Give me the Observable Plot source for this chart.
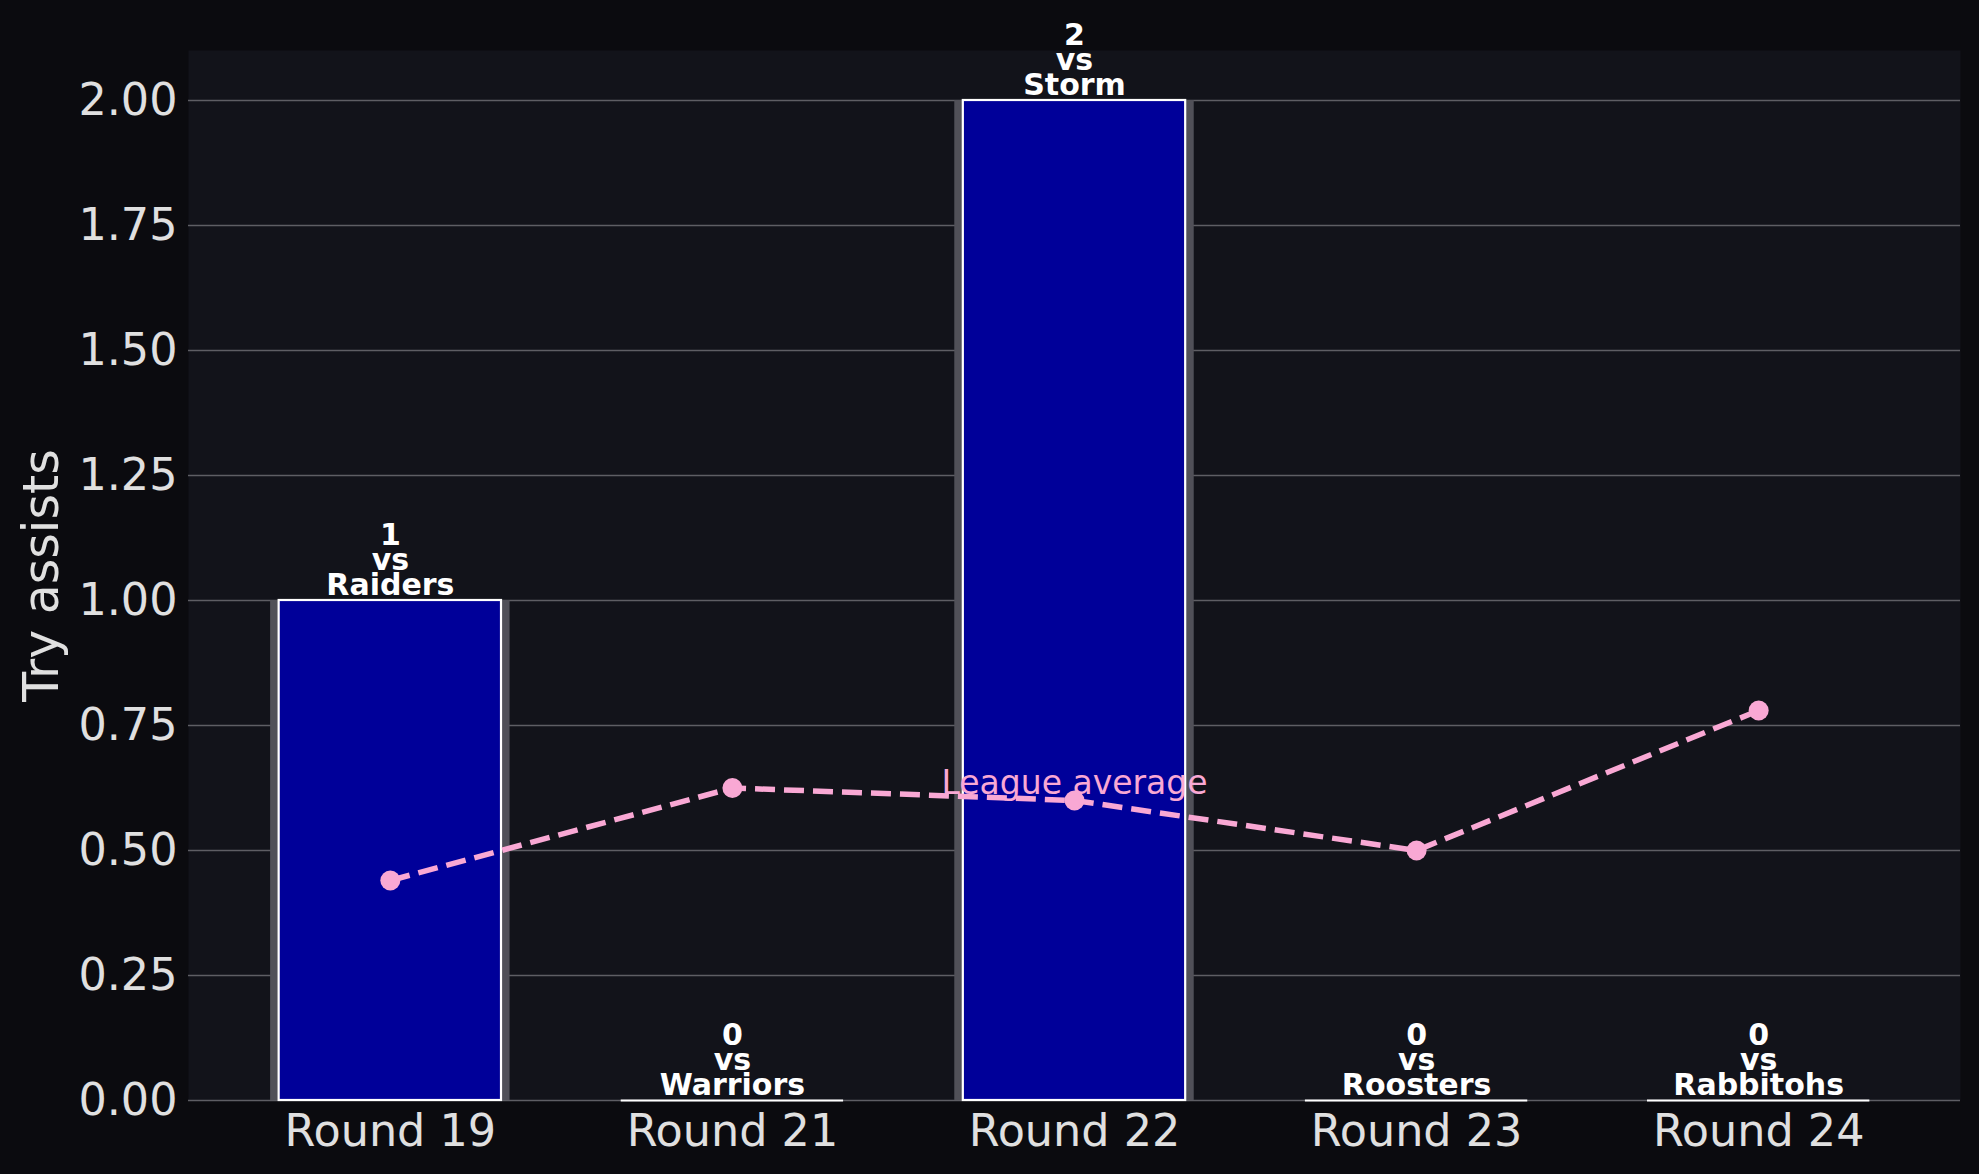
<!DOCTYPE html>
<html><head><meta charset="utf-8">
<script src="https://cdn.jsdelivr.net/npm/d3@7"></script>
<script src="https://cdn.jsdelivr.net/npm/@observablehq/plot@0.6"></script>
<style>
html,body{margin:0;padding:0;background:#0b0b0f;overflow:hidden;}
svg{display:block;overflow:visible;}
</style></head><body><div id="chart"></div>
<script>
const rounds = ["Round 19", "Round 21", "Round 22", "Round 23", "Round 24"];
const opponents = ["Raiders", "Warriors", "Storm", "Roosters", "Rabbitohs"];
const tryAssists = [1, 0, 2, 0, 0];
const leagueAverage = [0.44, 0.625, 0.60, 0.50, 0.78];
const yTicks = [0, 0.25, 0.5, 0.75, 1, 1.25, 1.5, 1.75, 2];
const yLabel = "Try assists";
const avgLabel = "League average";

const data = rounds.map((r, i) => ({i, round: r, opp: opponents[i], value: tryAssists[i], avg: leagueAverage[i]}));

const plot = Plot.plot({
  width: 1979, height: 1174,
  marginLeft: 188, marginRight: 19, marginTop: 50, marginBottom: 74,
  style: {background: "#0b0b0f", color: "#e0e0e0", fontFamily: "DejaVu Sans"},
  x: {domain: [-0.59, 4.59]},
  y: {domain: [0, 2.1]},
  marks: [
    Plot.frame({fill: "#12131a", stroke: null}),
    Plot.gridY(yTicks, {stroke: "#5e5e64", strokeOpacity: 1, strokeWidth: 1.6}),
    Plot.axisY({ticks: yTicks, tickFormat: d3.format(".2f"), tickSize: 0, tickPadding: 11, fontSize: 44.5, fill: "#e0e0e0", label: null}),
    Plot.axisX({ticks: [0, 1, 2, 3, 4], tickFormat: i => rounds[i], tickSize: 0, tickPadding: 14, fontSize: 44.5, fill: "#e0e0e0", label: null}),
    Plot.text([yLabel], {frameAnchor: "left", textAnchor: "middle", rotate: -90, dx: -146, fontSize: 49, fill: "#e0e0e0", text: d => d}),
    Plot.rectY(data, {filter: d => d.value > 0, x1: d => d.i - 0.35, x2: d => d.i + 0.35, y1: 0, y2: "value", fill: "#505058"}),
    Plot.rectY(data, {filter: d => d.value > 0, x1: d => d.i - 0.325, x2: d => d.i + 0.325, y1: 0, y2: "value", fill: "#000099", stroke: "white", strokeWidth: 2.2}),
    Plot.ruleY(data, {filter: d => d.value === 0, x1: d => d.i - 0.325, x2: d => d.i + 0.325, y: "value", stroke: "white", strokeWidth: 2.2}),
    Plot.line(data, {x: "i", y: "avg", stroke: "#f9a8d4", strokeWidth: 5.5, strokeDasharray: "20,9", strokeLinecap: "butt"}),
    Plot.dot(data, {x: "i", y: "avg", r: 10, fill: "#f9a8d4"}),
    Plot.text([data[2]], {x: "i", y: "avg", text: () => avgLabel, lineAnchor: "bottom", dy: -7, fontSize: 33, fill: "#f9a8d4"}),
    Plot.text(data, {x: "i", y: "value", text: d => `${d.value}\nvs\n${d.opp}`, lineAnchor: "bottom", lineHeight: 0.82, dy: -6, fontSize: 30, fontWeight: "bold", fill: "white"})
  ]
});
document.getElementById("chart").appendChild(plot);
</script></body></html>
